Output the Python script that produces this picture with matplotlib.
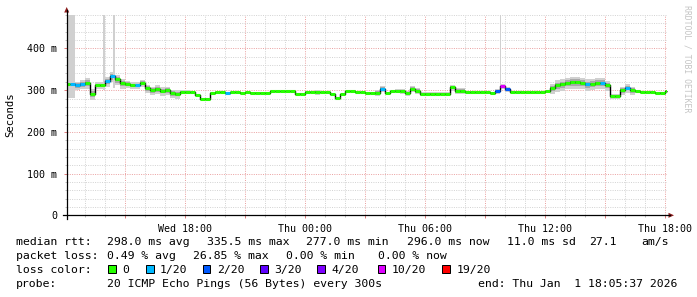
import matplotlib.pyplot as plt
import numpy as np
from matplotlib.lines import Line2D
from matplotlib.patches import Polygon, Rectangle

# sample times, hours since Wed 00:00, one value every 15 minutes
hours = np.arange(12.0, 42.01, 0.25)

# median rtt in ms
median = [314, 314, 312, 315, 318, 292, 312, 312, 322, 333,
          326, 318, 316, 312, 312, 318, 305, 300, 303, 299,
          300, 293, 292, 296, 296, 296, 288, 280, 280, 294,
          296, 296, 294, 295, 296, 294, 295, 294, 294, 294,
          294, 297, 297, 297, 297, 297, 292, 292, 296, 296,
          296, 295, 295, 290, 281, 290, 297, 297, 295, 295,
          294, 294, 294, 304, 294, 297, 299, 299, 294, 304,
          299, 292, 292, 292, 292, 292, 292, 307, 299, 299,
          296, 295, 295, 295, 295, 294, 298, 311, 302, 296,
          296, 296, 296, 295, 295, 295, 297, 305, 312, 315,
          318, 320, 320, 318, 315, 316, 318, 318, 313, 286,
          286, 300, 306, 300, 297, 296, 296, 296, 294, 294,
          297]

# lost pings out of 20
loss = [0, 1, 1, 1, 0, 0, 0, 0, 1, 1,
        0, 0, 0, 0, 1, 0, 0, 0, 0, 0,
        0, 0, 0, 0, 0, 0, 0, 0, 0, 0,
        0, 0, 1, 0, 0, 0, 0, 0, 0, 0,
        0, 0, 0, 0, 0, 0, 0, 0, 0, 0,
        0, 0, 0, 0, 0, 0, 0, 0, 0, 0,
        0, 0, 0, 1, 0, 0, 0, 0, 0, 0,
        0, 0, 0, 0, 0, 0, 0, 0, 0, 0,
        0, 0, 0, 0, 0, 0, 2, 10, 2, 0,
        0, 0, 0, 0, 0, 0, 0, 0, 0, 0,
        0, 0, 0, 0, 1, 0, 0, 1, 0, 0,
        0, 0, 1, 0, 0, 0, 0, 0, 0, 0,
        0]

# smoke spread around the median in ms
spread = [12, 12, 12, 12, 16, 16, 10, 10, 14, 14,
          14, 14, 10, 10, 10, 10, 12, 12, 12, 12,
          12, 12, 12, 5, 5, 4, 2, 2, 2, 2,
          2, 2, 2, 2, 2, 2, 2, 2, 2, 2,
          2, 2, 2, 2, 2, 2, 2, 2, 3, 3,
          7, 2, 2, 2, 2, 2, 2, 2, 2, 2,
          2, 2, 9, 9, 4, 4, 4, 7, 7, 9,
          9, 5, 5, 4, 4, 4, 4, 9, 9, 9,
          3, 3, 3, 3, 3, 3, 7, 7, 7, 3,
          3, 3, 3, 3, 3, 3, 3, 14, 16, 16,
          16, 16, 16, 16, 16, 16, 16, 16, 14, 8,
          8, 12, 12, 12, 3, 3, 3, 3, 3, 3,
          3]

# single pings far above the plot
spike_start = [12.14, 13.90, 14.40, 33.74]
spike_end = [12.50, 14.00, 14.50, 33.82]
spike_low = [282, 300, 305, 305]
spike_high = [600, 600, 600, 600]

loss_levels = [0, 1, 2, 3, 4, 10, 19]
loss_colors = ['#26ff00', '#00b8ff', '#0059ff', '#5e00ff', '#7e00ff', '#dd00ff', '#ff0000']
loss_names = ['0', '1/20', '2/20', '3/20', '4/20', '10/20', '19/20']

x_labels = {18: 'Wed 18:00', 24: 'Thu 00:00', 30: 'Thu 06:00', 36: 'Thu 12:00', 42: 'Thu 18:00'}

W, H = 697, 297
MONO = 'DejaVu Sans Mono'


def fx(px):
    return px / W


def fy(py):
    return 1 - py / H


def loss_color(n):
    col = loss_colors[0]
    for lvl, c in zip(loss_levels, loss_colors):
        if n >= lvl:
            col = c
    return col


def main():
    fig = plt.figure(figsize=(W / 100, H / 100), dpi=100)
    ax = fig.add_axes([fx(66.7), fy(215.3), fx(666.7) - fx(66.7), fy(15.1) - fy(215.3)])
    ax.set_xlim(12.094, 42.094)
    ax.set_ylim(0, 480)
    for s in ax.spines.values():
        s.set_visible(False)

    # grid, dotted like rrdtool
    major_x = np.arange(15, 43, 3)
    ax.set_xticks(major_x, [x_labels.get(h, '') for h in major_x])
    ax.set_xticks(np.arange(13, 43, 1), minor=True)
    ax.set_yticks([0, 100, 200, 300, 400], ['0', '100 m', '200 m', '300 m', '400 m'])
    ax.set_yticks(np.arange(0, 481, 20), minor=True)
    ax.grid(which='major', color='#eba4a4', linestyle=(0, (1, 1.3)), linewidth=0.72)
    ax.grid(which='minor', color='#d4d4d4', linestyle=(0, (1, 1.3)), linewidth=0.72)
    ax.set_axisbelow(True)
    ax.tick_params(which='major', axis='x', length=2, width=0.72, color='#e08080',
                   pad=4, labelsize=7.2, labelfontfamily=MONO)
    ax.tick_params(which='major', axis='y', length=2, width=0.72, color='#e08080',
                   pad=5, labelsize=7.2, labelfontfamily=MONO)
    ax.tick_params(which='minor', length=1.5, width=0.72, color='#c0c0c0')

    # smoke
    med = np.array(median, dtype=float)
    spr = np.array(spread, dtype=float)
    xe = np.append(hours, hours[-1] + 0.25)
    me = np.append(med, med[-1])
    se = np.append(spr, spr[-1])
    ax.fill_between(xe, me - se, me + se * 0.7, step='post', color='#d0d0d0', lw=0)
    ax.fill_between(xe, me - se * 0.55, me + se * 0.35, step='post', color='#a8a8a8', lw=0)
    ax.fill_between(xe, me - se * 0.25, me + se * 0.15, step='post', color='#707070', lw=0)
    for a, b, lo, hi in zip(spike_start, spike_end, spike_low, spike_high):
        ax.fill_between([a, b], [lo, lo], [hi, hi], color='#d0d0d0', lw=0)

    # median, black connectors and loss colored steps
    ax.step(xe, me, where='post', color='black', lw=1.0)
    ax.hlines(med, hours, hours + 0.25, colors=[loss_color(n) for n in loss], lw=2.2)

    # axes with arrows
    fig.add_artist(Line2D([fx(62.7), fx(670)], [fy(215.3), fy(215.3)], color='black', lw=0.9))
    fig.add_artist(Line2D([fx(66.7), fx(66.7)], [fy(219), fy(10)], color='black', lw=0.9))
    fig.add_artist(Polygon([[fx(668.5), fy(212.8)], [fx(674), fy(215.3)], [fx(668.5), fy(217.8)]],
                           closed=True, color='#8b1a1a', lw=0))
    fig.add_artist(Polygon([[fx(64.2), fy(12.5)], [fx(66.7), fy(7)], [fx(69.2), fy(12.5)]],
                           closed=True, color='#8b1a1a', lw=0))

    fig.text(fx(10), fy(115), 'Seconds', rotation=90, ha='center', va='center',
             fontsize=7.7, family=MONO)
    fig.text(fx(687), fy(5), 'RRDTOOL / TOBI OETIKER', rotation=270, ha='center', va='top',
             fontsize=5.9, family=MONO, color='#c4c4c4')

    # legend
    fs = 8.25
    rows = [
        (245, [(15.5, 'median rtt:'), (106.8, '298.0 ms avg'), (206.8, '335.5 ms max'),
               (306.2, '277.0 ms min'), (406.8, '296.0 ms now'), (507.2, '11.0 ms sd'),
               (589.5, '27.1'), (641.2, 'am/s')]),
        (259, [(15.5, 'packet loss:'), (106.8, '0.49 % avg'), (192.8, '26.85 % max'),
               (286.2, '0.00 % min'), (377.8, '0.00 % now')]),
        (273, [(15.5, 'loss color:')]),
        (287, [(15.5, 'probe:'), (106.8, '20 ICMP Echo Pings (56 Bytes) every 300s'),
               (477.8, 'end: Thu Jan  1 18:05:37 2026')]),
    ]
    for base, items in rows:
        for x, s in items:
            fig.text(fx(x), fy(base), s, ha='left', va='baseline', fontsize=fs, family=MONO)

    box_x = [108.3, 146, 202.7, 260, 317, 377.7, 442.3]
    for bx, c, name in zip(box_x, loss_colors, loss_names):
        fig.add_artist(Rectangle((fx(bx), fy(273)), 7.5 / W, 8 / H, facecolor=c,
                                 edgecolor='black', lw=0.72))
        fig.text(fx(bx + 14), fy(273), name, ha='left', va='baseline', fontsize=fs, family=MONO)

    fig.savefig('out.png', dpi=100, facecolor='white')


if __name__ == "__main__":
    main()
